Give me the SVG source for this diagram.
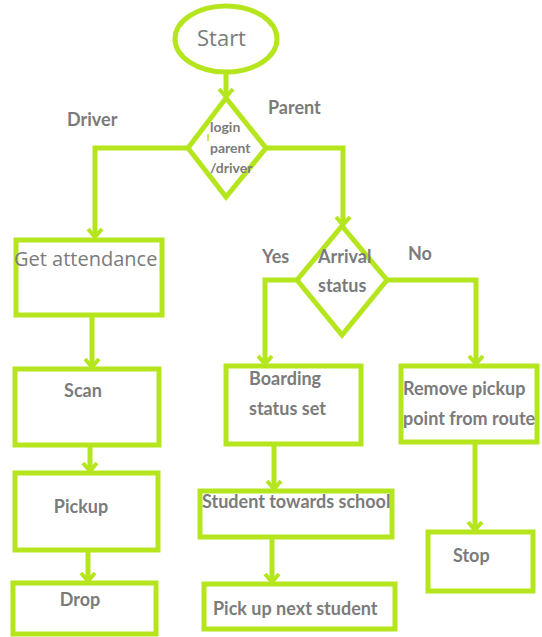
<svg xmlns="http://www.w3.org/2000/svg" width="542" height="637" viewBox="0 0 542 637">
<style>
.s{fill:none;stroke:#b5e61d;stroke-width:5;stroke-linejoin:miter}
.c{fill:none;stroke:#b5e61d;stroke-width:5}
.t{font-family:Lato,"Liberation Sans",sans-serif;font-weight:bold;font-size:18px;fill:#7b7b7b}
.n{font-family:"Open Sans","Liberation Sans",sans-serif;font-weight:normal;font-size:21px;fill:#7b7b7b}
.d{font-family:Lato,"Liberation Sans",sans-serif;font-weight:bold;font-size:14px;fill:#7b7b7b}
</style>
<defs>
<marker id="a" markerUnits="userSpaceOnUse" markerWidth="20" markerHeight="20" refX="10" refY="10" orient="auto" overflow="visible">
<path d="M2,3 L10,10 L2,17" fill="none" stroke="#b5e61d" stroke-width="4"/>
</marker>
</defs>
<g id="connectors">
<path class="c" d="M226,73 V97" marker-end="url(#a)"/>
<path class="c" d="M188,148 H95 V237" marker-end="url(#a)"/>
<path class="c" d="M266,148 H343 V225" marker-end="url(#a)"/>
<path class="c" d="M297,280 H265 V364" marker-end="url(#a)"/>
<path class="c" d="M387,280 H476 V364" marker-end="url(#a)"/>
<path class="c" d="M92,316 V367" marker-end="url(#a)"/>
<path class="c" d="M90,446 V471" marker-end="url(#a)"/>
<path class="c" d="M88,551 V581" marker-end="url(#a)"/>
<path class="c" d="M274,445 V489" marker-end="url(#a)"/>
<path class="c" d="M272,538 V582" marker-end="url(#a)"/>
<path class="c" d="M475,442 V530" marker-end="url(#a)"/>
</g>
<g id="start">
<ellipse class="s" cx="226" cy="39" rx="51" ry="33"/>
<text class="n" x="197" y="46" style="font-size:22px">Start</text>
</g>
<g id="login">
<polygon class="s" points="226,98 266,148 226,197 188,148"/>
<text class="d" x="210" y="132">login</text>
<text class="d" x="210" y="153">parent</text>
<text class="d" x="210" y="173">/driver</text>
<line x1="208" y1="134" x2="208" y2="141" stroke="#b5e61d" stroke-width="1.5"/>
</g>
<g id="labels">
<text class="t" x="67" y="126">Driver</text>
<text class="t" x="268" y="114">Parent</text>
<text class="t" x="262" y="263">Yes</text>
<text class="t" x="408" y="260">No</text>
</g>
<g id="attendance">
<rect class="s" x="16" y="240" width="146" height="75"/>
<text class="n" x="14" y="266" style="font-size:20px">Get attendance</text>
</g>
<g id="arrival">
<polygon class="s" points="342,226 387,280 342,335 297,280"/>
<text class="t" x="318" y="263">Arrival</text>
<text class="t" x="318" y="292">status</text>
</g>
<g id="scan">
<rect class="s" x="15" y="369" width="144" height="76"/>
<text class="t" x="83" y="397" text-anchor="middle">Scan</text>
</g>
<g id="pickup">
<rect class="s" x="15" y="473" width="143" height="77"/>
<text class="t" x="81" y="513" text-anchor="middle">Pickup</text>
</g>
<g id="drop">
<rect class="s" x="13" y="583" width="143" height="51"/>
<text class="t" x="80" y="606" text-anchor="middle">Drop</text>
</g>
<g id="boarding">
<rect class="s" x="226" y="366" width="135" height="78"/>
<text class="t" x="249" y="385">Boarding</text>
<text class="t" x="249" y="415">status set</text>
</g>
<g id="remove">
<rect class="s" x="401" y="366" width="136" height="76"/>
<text class="t" x="403" y="395">Remove pickup</text>
<text class="t" x="403" y="425">point from route</text>
</g>
<g id="towards">
<rect class="s" x="200" y="491" width="192" height="46"/>
<text class="t" x="202" y="508">Student towards school</text>
</g>
<g id="next">
<rect class="s" x="204" y="584" width="191" height="45"/>
<text class="t" x="213" y="615">Pick up next student</text>
</g>
<g id="stop">
<rect class="s" x="428" y="532" width="105" height="59"/>
<text class="t" x="453" y="562">Stop</text>
</g>
</svg>
